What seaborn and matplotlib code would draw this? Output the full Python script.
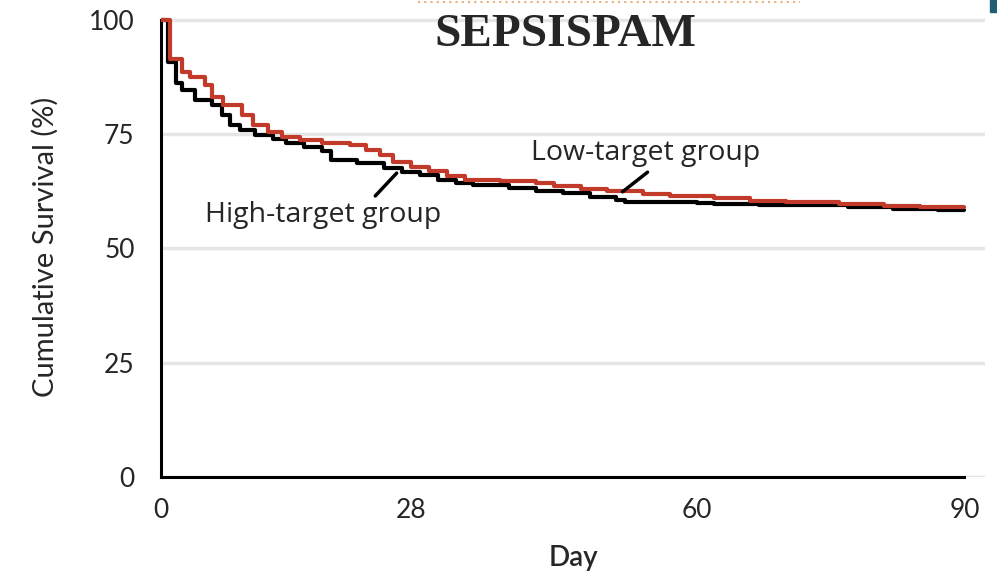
import matplotlib
matplotlib.use("Agg")
import matplotlib.pyplot as plt
from matplotlib.lines import Line2D
import seaborn as sns
import pandas as pd

# ---- data ----
low_days = [0, 1.0, 2.3, 3.2, 4.9, 5.7, 6.9, 9.1, 10.3, 12, 13.5, 15.6, 18, 21.2, 23, 24.5,
            26, 28, 30, 32, 34, 38, 42, 44, 47, 50, 54, 57, 62, 66, 70, 76, 81, 85, 90]
low_surv = [100, 91.5, 88.6, 87.5, 85.8, 83.2, 81.4, 79.2, 77.0, 75.5, 74.4, 73.7, 73.0, 72.6,
            71.5, 70.5, 69.0, 67.8, 67.0, 65.8, 65.0, 64.8, 64.3, 63.6, 63.0, 62.5, 62.0, 61.5,
            61.0, 60.5, 60.2, 59.8, 59.4, 59.1, 59.1]

high_days = [0, 0.8, 1.7, 2.3, 3.8, 5.7, 6.8, 7.7, 8.8, 10.5, 12.5, 14, 16, 18, 19, 22, 25,
             27, 29, 31, 33, 35, 39, 42, 45, 48, 51, 52, 60, 62, 67, 77, 82, 87, 90]
high_surv = [100, 90.8, 86.2, 84.7, 82.5, 81.4, 79.2, 77.0, 75.9, 74.8, 74.0, 73.0, 72.2, 71.4,
             69.4, 68.7, 67.6, 66.7, 66.0, 65.0, 64.3, 63.9, 63.2, 62.5, 62.1, 61.3, 60.6, 60.2,
             60.0, 59.8, 59.5, 59.0, 58.7, 58.4, 58.4]

groups = ["High-target group", "Low-target group"]
x_ticks = [0, 28, 60, 90]
y_ticks = [0, 25, 50, 75, 100]
title = "SEPSISPAM"

df = pd.concat([
    pd.DataFrame({"day": high_days, "surv": high_surv, "group": groups[0]}),
    pd.DataFrame({"day": low_days, "surv": low_surv, "group": groups[1]}),
])

sns.set_style("white")
tick_font = ["Lato", "DejaVu Sans"]
lab_font = ["Lato", "DejaVu Sans"]
ann_font = ["Open Sans", "DejaVu Sans"]

fig = plt.figure(figsize=(9.97, 5.75), dpi=100)
ax_h = 457 * 100.6 / 100 / 575
ax = fig.add_axes([161 / 997, 98 / 575, (985 - 161) / 997, ax_h])

sns.lineplot(data=df, x="day", y="surv", hue="group", hue_order=groups,
             palette={groups[0]: "#000000", groups[1]: "#c23b2a"},
             estimator=None, drawstyle="steps-post", linewidth=3.0,
             legend=False, ax=ax, zorder=3)

ax.set_xlim(0, 92.3)
ax.set_ylim(0, 100.6)
ax.set_xticks(x_ticks)
ax.set_yticks(y_ticks)
ax.yaxis.grid(True, color="#e6e6e6", linewidth=2.5)
ax.set_axisbelow(True)
for s in ["top", "right"]:
    ax.spines[s].set_visible(False)
ax.spines["bottom"].set_bounds(0, 90)
ax.spines["left"].set_bounds(0, 100)
for s in ["bottom", "left"]:
    ax.spines[s].set_linewidth(2.2)
    ax.spines[s].set_color("black")
ax.tick_params(direction="out", length=10, width=2.2, color="black")
ax.tick_params(axis="y", pad=9)
ax.tick_params(axis="x", pad=5)
for lab in ax.get_xticklabels() + ax.get_yticklabels():
    lab.set_fontfamily(tick_font)
    lab.set_fontsize(19)

ax.set_xlabel("Day", fontsize=20, family=lab_font, fontweight="semibold", labelpad=16)
ax.set_ylabel("Cumulative Survival (%)", fontsize=21, family=lab_font, labelpad=22)

# annotations
ax.text(41.4, 70.9, groups[1], fontsize=20.5, family=ann_font, va="center", ha="left")
ax.text(4.9, 57.3, groups[0], fontsize=20.5, family=ann_font, va="center", ha="left")
ax.plot([51.7, 54.5], [62.4, 66.7], color="black", linewidth=2.5, zorder=4)
ax.plot([24.0, 26.4], [61.5, 66.5], color="black", linewidth=2.5, zorder=4)

fig.text(565 / 997, 1 - 35 / 575, title, fontsize=34, fontweight="bold",
         family=["Liberation Serif", "DejaVu Serif"], ha="center", va="center")

# decorative dotted line and corner mark at top of reference
fig.add_artist(Line2D([418 / 997, 800 / 997], [1 - 2 / 575, 1 - 2 / 575], color="#e9b07a",
                      linewidth=1.5, linestyle=(0, (1, 2)), transform=fig.transFigure))
fig.add_artist(plt.Rectangle((990 / 997, 1 - 12 / 575), 7 / 997, 12 / 575, color="#1f5f73",
                             transform=fig.transFigure))

fig.savefig("out.png", dpi=100)
